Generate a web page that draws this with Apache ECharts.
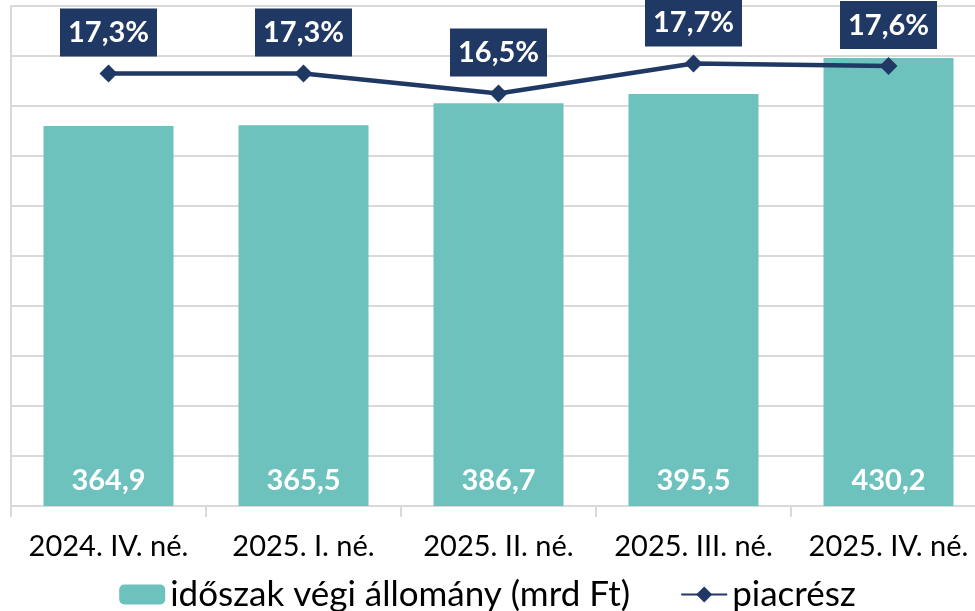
<!DOCTYPE html>
<html>
<head>
<meta charset="utf-8">
<script src="https://cdn.jsdelivr.net/npm/echarts@6/dist/echarts.min.js"></script>
<style>
  html, body { margin: 0; padding: 0; background: #fff; }
  #chart { width: 975px; height: 611px; }
</style>
</head>
<body>
<div id="chart"></div>
<script>
// adatok
var categories = ["2024. IV. né.", "2025. I. né.", "2025. II. né.", "2025. III. né.", "2025. IV. né."];
var stockValues = [364.9, 365.5, 386.7, 395.5, 430.2];
var shareValues = [17.3, 17.3, 16.5, 17.7, 17.6];
var barName = "időszak végi állomány (mrd Ft)";
var lineName = "piacrész";

var teal = "#6DC2BD";
var navy = "#203864";
var gridGray = "#D9D9D9";
var font = "Lato";

function huNum(v) {
  return String(v.toFixed(1)).replace(".", ",");
}

var chart = echarts.init(document.getElementById("chart"));

var option = {
  animation: false,
  textStyle: { fontFamily: font },
  grid: {
    left: 11,
    top: 6,
    width: 975,
    height: 500,
    containLabel: false,
    outerBoundsMode: "none",
  },
  legend: {
    top: 572,
    left: "center",
    itemWidth: 46,
    itemHeight: 20,
    itemGap: 50,
    textStyle: { fontSize: 35, color: "#000", fontFamily: font },
    data: [{ name: barName }, { name: lineName }],
  },
  xAxis: {
    type: "category",
    data: categories,
    axisLine: { lineStyle: { color: gridGray, width: 2 } },
    axisTick: { show: true, interval: 0, length: 11, lineStyle: { color: gridGray, width: 2 } },
    axisLabel: { interval: 0, hideOverlap: false, fontSize: 29, color: "#000", margin: 26, fontFamily: font },
  },
  yAxis: [
    {
      type: "value",
      min: 0,
      max: 480,
      interval: 48,
      axisLabel: { show: false },
      axisTick: { show: false },
      axisLine: { show: true, lineStyle: { color: gridGray, width: 2 } },
      splitLine: { show: false },
    },
    {
      type: "value",
      min: 0,
      max: 20,
      interval: 2,
      position: "right",
      axisLabel: { show: false },
      axisTick: { show: false },
      axisLine: { show: false },
      splitLine: { show: true, lineStyle: { color: gridGray, width: 2 } },
    },
  ],
  series: [
    {
      name: barName,
      type: "bar",
      data: stockValues,
      barWidth: 130,
      itemStyle: { color: teal },
      label: {
        show: true,
        position: "insideBottom",
        distance: 11,
        color: "#fff",
        fontWeight: "bold",
        fontSize: 29,
        fontFamily: font,
        formatter: function (p) { return huNum(p.value); },
      },
    },
    {
      name: lineName,
      type: "line",
      yAxisIndex: 1,
      data: shareValues,
      symbol: "diamond",
      symbolSize: 18,
      lineStyle: { color: navy, width: 4.5 },
      itemStyle: { color: navy },
      label: {
        show: true,
        position: "top",
        distance: 8,
        color: "#fff",
        backgroundColor: navy,
        fontWeight: "bold",
        fontSize: 29,
        fontFamily: font,
        padding: [10, 8, 9, 8],
        formatter: function (p) { return huNum(p.value) + "%"; },
      },
    },
  ],
};

chart.setOption(option);
</script>
</body>
</html>
